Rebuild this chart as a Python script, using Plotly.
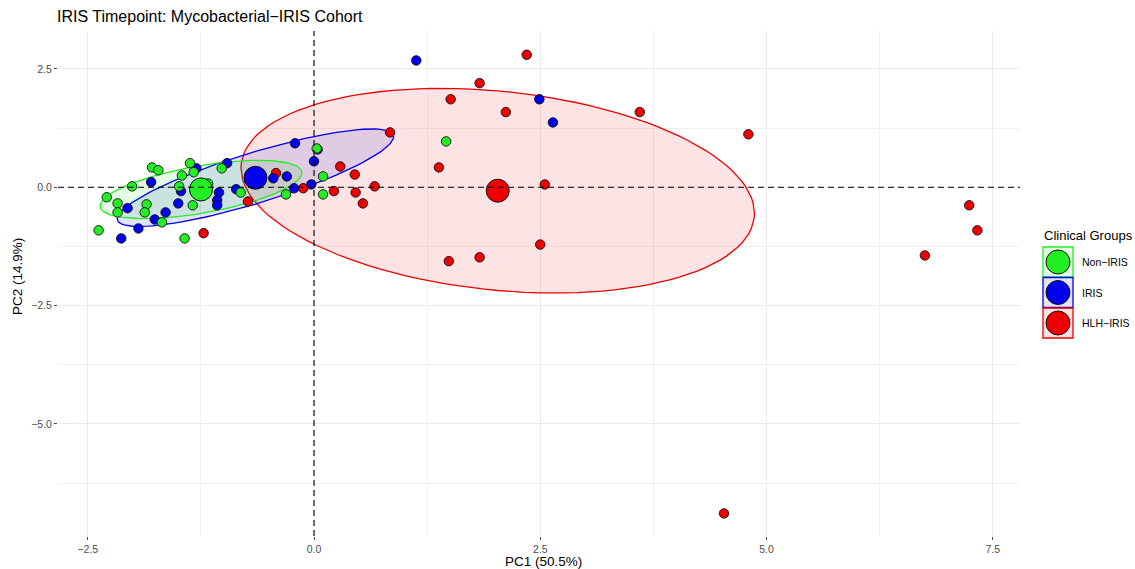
import numpy as np
import plotly.graph_objects as go

# ---------------- data ----------------
groups = ["Non−IRIS", "IRIS", "HLH−IRIS"]

non_iris_pc1 = [-1.79, -1.72, -1.37, -1.33, -1.46, -2.01, -2.29, -2.17, -2.17, -1.85,
                -1.87, -1.68, -2.38, -1.43, -1.49, -1.34, -1.17, -1.02, -0.81, -0.31,
                0.03, 0.10, 0.10, 1.46]
non_iris_pc2 = [0.42, 0.36, 0.51, 0.32, 0.25, 0.02, -0.21, -0.34, -0.53, -0.36,
                -0.53, -0.74, -0.91, -1.08, 0.02, -0.38, 0.08, 0.40, -0.11, -0.15,
                0.82, 0.23, -0.15, 0.97]

iris_pc1 = [-1.80, -2.06, -1.64, -1.50, -1.76, -1.94, -2.13, -1.30, -1.05, -1.07,
            -1.07, -0.96, -0.45, -0.30, -0.21, -0.22, -0.03, 0.00, 0.04, -0.86,
            1.13, 2.49, 2.64, -1.47]
iris_pc2 = [0.11, -0.44, -0.53, -0.34, -0.68, -0.87, -1.08, 0.40, -0.11, -0.27,
            -0.38, 0.51, 0.19, 0.23, 0.93, -0.02, 0.06, 0.55, 0.80, -0.04,
            2.68, 1.86, 1.37, -0.08]

hlh_iris_pc1 = [2.35, 1.83, 1.51, 2.12, 3.60, 4.80, 0.84, 1.38, 2.55, 0.29,
                0.45, 0.67, 0.46, 0.22, 0.54, -0.12, -0.42, -0.73, -1.22, 1.49,
                1.83, 2.50, 6.75, 7.24, 7.33, 4.53]
hlh_iris_pc2 = [2.80, 2.20, 1.86, 1.59, 1.59, 1.12, 1.16, 0.42, 0.06, 0.44,
                0.27, 0.02, -0.11, -0.08, -0.34, -0.02, 0.30, -0.30, -0.97, -1.56,
                -1.48, -1.21, -1.44, -0.38, -0.91, -6.89]

x_tick_vals = [-2.5, 0.0, 2.5, 5.0, 7.5]
x_tick_text = ["−2.5", "0.0", "2.5", "5.0", "7.5"]
y_tick_vals = [-5.0, -2.5, 0.0, 2.5]
y_tick_text = ["−5.0", "−2.5", "0.0", "2.5"]

title_text = "IRIS Timepoint: Mycobacterial−IRIS Cohort"
x_title = "PC1 (50.5%)"
y_title = "PC2 (14.9%)"
legend_title = "Clinical Groups"

# ---------------- styles ----------------
colors = {"Non−IRIS": "#22EE22", "IRIS": "#0000EE", "HLH−IRIS": "#EE0000"}
fills = {"Non−IRIS": "rgba(0,230,0,0.11)", "IRIS": "rgba(0,0,230,0.11)",
         "HLH−IRIS": "rgba(240,0,0,0.11)"}
FONT = "Liberation Sans, Arial, Helvetica, sans-serif"
W, H = 1135, 569
L, R, T, B = 58, 115, 31, 33
PW, PH = W - L - R, H - T - B


def px2paper_x(px):
    return (px - L) / PW


def px2paper_y(py):
    return 1 - (py - T) / PH


def norm_ellipse(x, y, level=0.5, segments=120):
    """stat_ellipse(type = 'norm') equivalent."""
    x = np.asarray(x, float)
    y = np.asarray(y, float)
    n = len(x)
    center = np.array([x.mean(), y.mean()])
    cov = np.cov(np.vstack([x, y]))
    chol_upper = np.linalg.cholesky(cov).T
    dfd = n - 1
    qf = dfd / 2 * ((1 - level) ** (-2 / dfd) - 1)   # qf(level, 2, dfd)
    radius = np.sqrt(2 * qf)
    ang = np.linspace(0, 2 * np.pi, segments + 1)
    circ = np.column_stack([np.cos(ang), np.sin(ang)])
    ell = center + radius * circ @ chol_upper
    return ell[:, 0], ell[:, 1]


data = {
    "Non−IRIS": (non_iris_pc1, non_iris_pc2),
    "IRIS": (iris_pc1, iris_pc2),
    "HLH−IRIS": (hlh_iris_pc1, hlh_iris_pc2),
}

fig = go.Figure()

# ellipses
for g in ["HLH−IRIS", "IRIS", "Non−IRIS"]:
    ex, ey = norm_ellipse(*data[g])
    fig.add_trace(go.Scatter(x=ex, y=ey, mode="lines", fill="toself",
                             fillcolor=fills[g],
                             line=dict(color=colors[g], width=1.3),
                             hoverinfo="skip", showlegend=False))

# individual points
for g in ["HLH−IRIS", "IRIS", "Non−IRIS"]:
    px_, py_ = data[g]
    fig.add_trace(go.Scatter(x=px_, y=py_, mode="markers", name=g,
                             marker=dict(size=9.5, color=colors[g],
                                         line=dict(color="#111111", width=0.9)),
                             showlegend=False))

# group centroids
for g in ["Non−IRIS", "IRIS", "HLH−IRIS"]:
    px_, py_ = data[g]
    fig.add_trace(go.Scatter(x=[float(np.mean(px_))], y=[float(np.mean(py_))],
                             mode="markers",
                             marker=dict(size=23, color=colors[g],
                                         line=dict(color="#111111", width=1)),
                             showlegend=False, hoverinfo="skip"))

shapes = [
    dict(type="line", xref="x", yref="paper", x0=0, x1=0, y0=0, y1=1,
         line=dict(color="black", width=1.1, dash="6px,4px"), layer="above"),
    dict(type="line", xref="paper", yref="y", x0=0, x1=1, y0=0, y1=0,
         line=dict(color="black", width=1.1, dash="6px,4px"), layer="above"),
]

annotations = [
    dict(text=title_text, xref="paper", yref="paper", x=px2paper_x(55),
         y=px2paper_y(17), xanchor="left", yanchor="middle", showarrow=False,
         font=dict(family=FONT, size=16, color="black")),
    dict(text=x_title, xref="paper", yref="paper", x=px2paper_x(543),
         y=px2paper_y(561), xanchor="center", yanchor="middle", showarrow=False,
         font=dict(family=FONT, size=13.5, color="black")),
    dict(text=y_title, xref="paper", yref="paper", x=px2paper_x(17),
         y=px2paper_y(277), xanchor="center", yanchor="middle", showarrow=False,
         textangle=-90, font=dict(family=FONT, size=13.5, color="black")),
    dict(text=legend_title, xref="paper", yref="paper", x=px2paper_x(1042),
         y=px2paper_y(235), xanchor="left", yanchor="middle", showarrow=False,
         font=dict(family=FONT, size=13, color="black")),
]

# custom legend keys (boxes with large circles)
for i, g in enumerate(groups):
    top = 247 + 30.5 * i
    shapes.append(dict(type="rect", xref="paper", yref="paper",
                       x0=px2paper_x(1043), x1=px2paper_x(1073),
                       y0=px2paper_y(top), y1=px2paper_y(top + 30),
                       fillcolor=fills[g], line=dict(color=colors[g], width=1.3),
                       layer="above"))
    cy = top + 15
    shapes.append(dict(type="circle", xref="paper", yref="paper",
                       x0=px2paper_x(1058 - 12), x1=px2paper_x(1058 + 12),
                       y0=px2paper_y(cy - 12), y1=px2paper_y(cy + 12),
                       fillcolor=colors[g], line=dict(color="#111111", width=1),
                       layer="above"))
    annotations.append(dict(text=g, xref="paper", yref="paper",
                            x=px2paper_x(1080), y=px2paper_y(cy),
                            xanchor="left", yanchor="middle", showarrow=False,
                            font=dict(family=FONT, size=10.5, color="black")))

x_minor = [(a + b) / 2 for a, b in zip(x_tick_vals[:-1], x_tick_vals[1:])]
y_minor = [(a + b) / 2 for a, b in zip(y_tick_vals[:-1], y_tick_vals[1:])]
y_minor = y_minor + [y_tick_vals[0] - (y_tick_vals[1] - y_tick_vals[0]) / 2]

fig.update_layout(
    width=W, height=H,
    margin=dict(l=L, r=R, t=T, b=B),
    paper_bgcolor="white", plot_bgcolor="white",
    font=dict(family=FONT),
    shapes=shapes, annotations=annotations,
    showlegend=False,
    xaxis=dict(range=[(L - 314) / 90.5, (L + PW - 314) / 90.5],
               tickvals=x_tick_vals, ticktext=x_tick_text,
               tickfont=dict(size=10.5, color="#4D4D4D", family=FONT),
               ticks="outside", ticklen=3, tickcolor="#4D4D4D", tickwidth=1,
               showgrid=True, gridcolor="#EBEBEB", gridwidth=1,
               zeroline=False, showline=False,
               minor=dict(tickvals=x_minor, showgrid=True, gridcolor="#F0F0F0",
                          gridwidth=0.8, ticks="")),
    yaxis=dict(range=[(187.3 - (T + PH)) / 47.33, (187.3 - T) / 47.33],
               tickvals=y_tick_vals, ticktext=y_tick_text,
               tickfont=dict(size=10.5, color="#4D4D4D", family=FONT),
               ticks="outside", ticklen=3, tickcolor="#4D4D4D", tickwidth=1,
               showgrid=True, gridcolor="#EBEBEB", gridwidth=1,
               zeroline=False, showline=False,
               minor=dict(tickvals=y_minor, showgrid=True, gridcolor="#F0F0F0",
                          gridwidth=0.8, ticks="")),
)

fig.write_html("out.html")
